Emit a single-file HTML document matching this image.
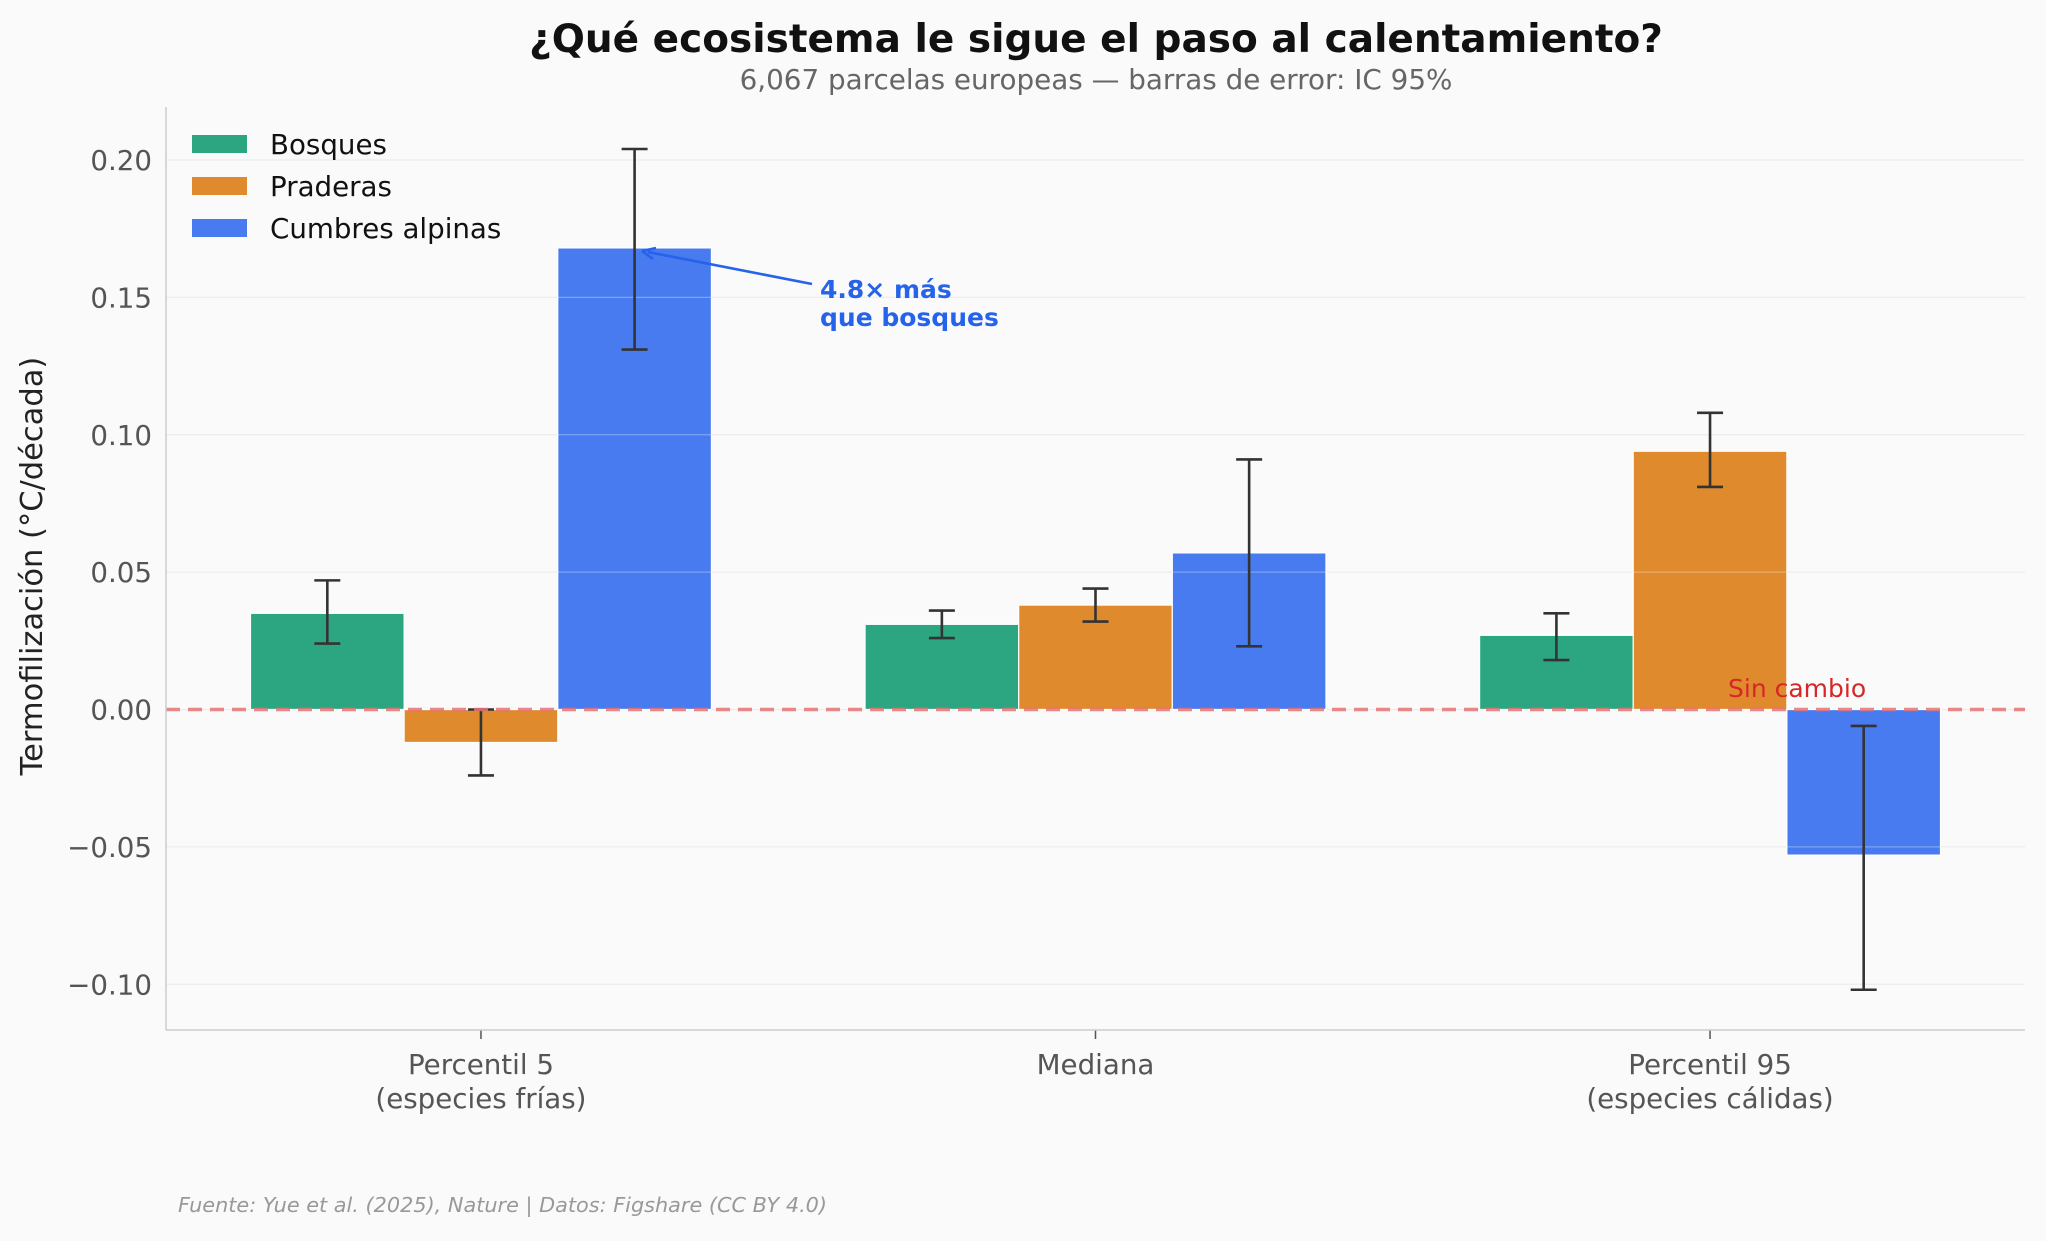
<!DOCTYPE html>
<html><head><meta charset="utf-8"><style>
body{margin:0;background:#fafafa;}
svg text{font-family:"DejaVu Sans","Liberation Sans",sans-serif;}
</style></head><body>
<svg id="chart" width="2046" height="1236" xmlns="http://www.w3.org/2000/svg">
<rect width="2046" height="1236" fill="#fafafa"/>
<text x="1096" y="52" text-anchor="middle" font-size="39" font-weight="bold" fill="#111">¿Qué ecosistema le sigue el paso al calentamiento?</text>
<text x="1096" y="89" text-anchor="middle" font-size="27.8" fill="#666">6,067 parcelas europeas — barras de error: IC 95%</text>
<g id="grid"></g>
<g id="bars"></g>
<g id="gridtop"></g>
<g id="errs"></g>
<g id="axes"></g>
<text transform="translate(42,566) rotate(-90)" text-anchor="middle" font-size="30.5" fill="#222">Termofilización (°C/década)</text>
<text x="1728" y="697" font-size="25" fill="#d62728">Sin cambio</text>
<g>
<line x1="812" y1="284" x2="648" y2="252" stroke="#2563eb" stroke-width="2.6"/>
<path d="M642,251 L656,248 M642,251 L653,259" stroke="#2563eb" stroke-width="2.6" fill="none"/>
<text x="820" y="298" font-size="25" font-weight="bold" fill="#2563eb">4.8× más</text>
<text x="820" y="326" font-size="25" font-weight="bold" fill="#2563eb">que bosques</text>
</g>
<g>
<rect x="192" y="135" width="55" height="18" fill="#2ca680"/>
<text x="270" y="154" font-size="27.7" fill="#111">Bosques</text>
<rect x="192" y="177" width="55" height="18" fill="#df8a2c"/>
<text x="270" y="196" font-size="27.7" fill="#111">Praderas</text>
<rect x="192" y="219" width="55" height="18" fill="#477bef"/>
<text x="270" y="238" font-size="27.7" fill="#111">Cumbres alpinas</text>
</g>
<text x="178" y="1212" font-size="20.8" font-style="italic" fill="#999">Fuente: Yue et al. (2025), Nature | Datos: Figshare (CC BY 4.0)</text>
</svg>
<script>
const categories=[["Percentil 5","(especies frías)"],["Mediana",""],["Percentil 95","(especies cálidas)"]];
const seriesNames=["Bosques","Praderas","Cumbres alpinas"];
const bosques=[0.035,0.031,0.027];
const praderas=[-0.012,0.038,0.094];
const cumbres=[0.168,0.057,-0.053];
const bosquesLo=[0.024,0.026,0.018];
const bosquesHi=[0.047,0.036,0.035];
const praderasLo=[-0.024,0.032,0.081];
const praderasHi=[0.000,0.044,0.108];
const cumbresLo=[0.131,0.023,-0.102];
const cumbresHi=[0.204,0.091,-0.006];
const yTicks=[-0.10,-0.05,0.00,0.05,0.10,0.15,0.20];
const yTickLabels=["−0.10","−0.05","0.00","0.05","0.10","0.15","0.20"];

const L=166,R=2025,T=107,B=1030;
const xMin=-0.5125,xMax=2.5125;
function X(v){return L+(v-xMin)/(xMax-xMin)*(R-L);}
function Y(v){return 709.5-v*2747.5;}
const NS="http://www.w3.org/2000/svg";
function mk(tag,attrs,parent){const e=document.createElementNS(NS,tag);for(const k in attrs)e.setAttribute(k,attrs[k]);parent.appendChild(e);return e;}
const grid=document.getElementById('grid'),gridtop=document.getElementById('gridtop'),bars=document.getElementById('bars'),errs=document.getElementById('errs'),axes=document.getElementById('axes');
yTicks.forEach((t,i)=>{
  const g=mk('line',{x1:L,x2:R,y1:Y(t),y2:Y(t),stroke:'#e6e6e6','stroke-width':1.3},grid);
  
  
  const g2=mk('line',{x1:L,x2:R,y1:Y(t),y2:Y(t),stroke:'#ffffff','stroke-opacity':0.3,'stroke-width':1.3},gridtop);
  
  
  const tx=mk('text',{x:L-14,y:Y(t)+10,'text-anchor':'end','font-size':27.7,fill:'#555'},axes);
  tx.textContent=yTickLabels[i];
  
  
});
const vals=[bosques,praderas,cumbres],lo=[bosquesLo,praderasLo,cumbresLo],hi=[bosquesHi,praderasHi,cumbresHi];
const colors=["#2ca680","#df8a2c","#477bef"];
const w=0.25;
categories.forEach((c,ci)=>{
  vals.forEach((s,si)=>{
    const xc=ci+(si-1)*w;
    const v=s[ci];
    const r=mk('rect',{x:X(xc-w/2),width:X(xc+w/2)-X(xc-w/2),y:Math.min(Y(v),Y(0)),height:Math.abs(Y(v)-Y(0)),fill:colors[si],stroke:'#ffffff','stroke-width':1.2},bars);
    
    
    const ex=X(xc),y1=Y(lo[si][ci]),y2=Y(hi[si][ci]);
    const e=mk('path',{d:`M${ex},${y1}V${y2}M${ex-13},${y1}H${ex+13}M${ex-13},${y2}H${ex+13}`,stroke:'#333',"stroke-width":2.6,fill:'none'},errs);
    
    
  });
  const tk=mk('line',{x1:X(ci),x2:X(ci),y1:B,y2:B+9,stroke:'#555','stroke-width':1.5},axes);
  
  
  c.forEach((ln,li)=>{
    if(!ln)return;
    const t=mk('text',{x:X(ci),y:1074+li*34,'text-anchor':'middle','font-size':27.7,fill:'#555'},axes);
    t.textContent=ln;
    
    
  });
});
const zl=mk('line',{x1:L,x2:R,y1:Y(0),y2:Y(0),stroke:'#e57373','stroke-opacity':0.85,'stroke-width':3.6,'stroke-dasharray':'14,8'},axes);


const la=mk('line',{x1:L,x2:L,y1:T,y2:B,stroke:'#ccc','stroke-width':1.5},axes);


const ba=mk('line',{x1:L,x2:R,y1:B,y2:B,stroke:'#ccc','stroke-width':1.5},axes);


</script>
</body></html>
